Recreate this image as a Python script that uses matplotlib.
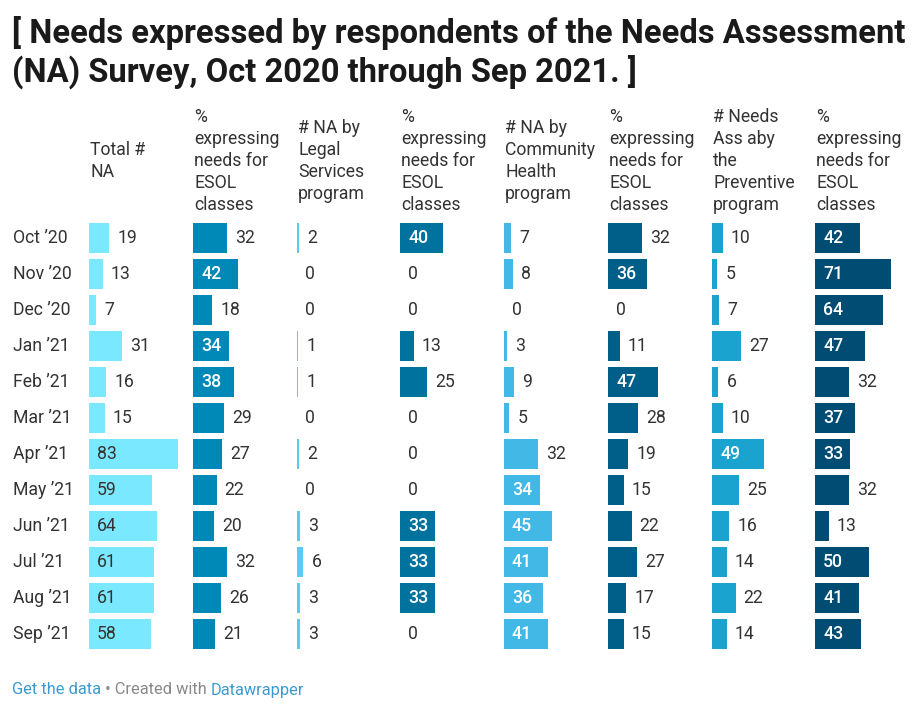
import matplotlib
matplotlib.use("Agg")
import matplotlib.pyplot as plt

plt.rcParams["font.family"] = ["Roboto", "DejaVu Sans"]

months = ["Oct \u201920", "Nov \u201920", "Dec \u201920", "Jan \u201921",
          "Feb \u201921", "Mar \u201921", "Apr \u201921", "May \u201921",
          "Jun \u201921", "Jul \u201921", "Aug \u201921", "Sep \u201921"]

headers = [
    "Total #\nNA",
    "%\nexpressing\nneeds for\nESOL\nclasses",
    "# NA by\nLegal\nServices\nprogram",
    "%\nexpressing\nneeds for\nESOL\nclasses",
    "# NA by\nCommunity\nHealth\nprogram",
    "%\nexpressing\nneeds for\nESOL\nclasses",
    "# Needs\nAss aby\nthe\nPreventive\nprogram",
    "%\nexpressing\nneeds for\nESOL\nclasses",
]

total_na = [19, 13, 7, 31, 16, 15, 83, 59, 64, 61, 61, 58]
esol_total = [32, 42, 18, 34, 38, 29, 27, 22, 20, 32, 26, 21]
legal_na = [2, 0, 0, 1, 1, 0, 2, 0, 3, 6, 3, 3]
esol_legal = [40, 0, 0, 13, 25, 0, 0, 0, 33, 33, 33, 0]
health_na = [7, 8, 0, 3, 9, 5, 32, 34, 45, 41, 36, 41]
esol_health = [32, 36, 0, 11, 47, 28, 19, 15, 22, 27, 17, 15]
prev_na = [10, 5, 7, 27, 6, 10, 49, 25, 16, 14, 22, 14]
esol_prev = [42, 71, 64, 47, 32, 37, 33, 32, 13, 50, 41, 43]

columns = [total_na, esol_total, legal_na, esol_legal,
           health_na, esol_health, prev_na, esol_prev]
colors = ["#7ae8ff", "#0089b7", "#5cc9f5", "#00729e",
          "#42b8e6", "#005f89", "#1aa3cf", "#004c73"]
inside_colors = ["#333333", "white", "white", "white",
                 "white", "white", "white", "white"]

W, H = 922, 716
fig = plt.figure(figsize=(W / 100, H / 100), dpi=100)

col_x = [89, 193, 297, 400, 504, 608, 712, 815]
px_per_unit = 1.07
ax_w = 100
row_top, row_step = 238, 36
text_col = "#333333"
fs = 12.7

top = row_top - row_step / 2
bot = row_top + row_step * (len(months) - 0.5)

for ci, vals in enumerate(columns):
    ax = fig.add_axes([col_x[ci] / W, 1 - bot / H, ax_w / W, (bot - top) / H])
    ax.set_xlim(0, ax_w / px_per_unit)
    ax.set_ylim(len(months) - 0.5, -0.5)
    ax.axis("off")
    ax.barh(range(len(vals)), vals, height=30 / 36, color=colors[ci])
    for ri, v in enumerate(vals):
        if v * px_per_unit >= 35:
            wt = "normal" if ci == 0 else "medium"
            ax.annotate(str(v), (0, ri), xytext=(8, 0), textcoords="offset pixels",
                        va="center", ha="left", fontsize=fs,
                        color=inside_colors[ci], fontweight=wt)
        else:
            ax.annotate(str(v), (v, ri), xytext=(8, 0), textcoords="offset pixels",
                        va="center", ha="left", fontsize=fs, color=text_col)

# row labels
for ri, m in enumerate(months):
    fig.text(13 / W, 1 - (row_top + ri * row_step) / H, m, fontsize=fs,
             color=text_col, va="center", ha="left")

# column headers, centred vertically around y=161
line_h = 22
for ci, h in enumerate(headers):
    lines = h.split("\n")
    y0 = 161 - line_h * (len(lines) - 1) / 2
    for li, ln in enumerate(lines):
        fig.text((col_x[ci] + 1) / W, 1 - (y0 + li * line_h) / H, ln,
                 fontsize=fs, color=text_col, va="center", ha="left")

# title
fig.text(12 / W, 1 - 33 / H,
         "[ Needs expressed by respondents of the Needs Assessment",
         fontsize=23.6, fontweight="bold", color="#1a1a1a", va="center", ha="left")
fig.text(12 / W, 1 - 72 / H,
         "(NA) Survey, Oct 2020 through Sep 2021. ]",
         fontsize=23.6, fontweight="bold", color="#1a1a1a", va="center", ha="left")

# footer
fig.canvas.draw()
r = fig.canvas.get_renderer()
x = 12
for txt, c in [("Get the data", "#3a9bd0"), (" \u2022 Created with ", "#888888"),
               ("Datawrapper", "#3a9bd0")]:
    t = fig.text(x / W, 1 - 690 / H, txt, fontsize=11.8, color=c,
                 va="center", ha="left")
    x += t.get_window_extent(r).width

fig.savefig("out.png", dpi=100)
